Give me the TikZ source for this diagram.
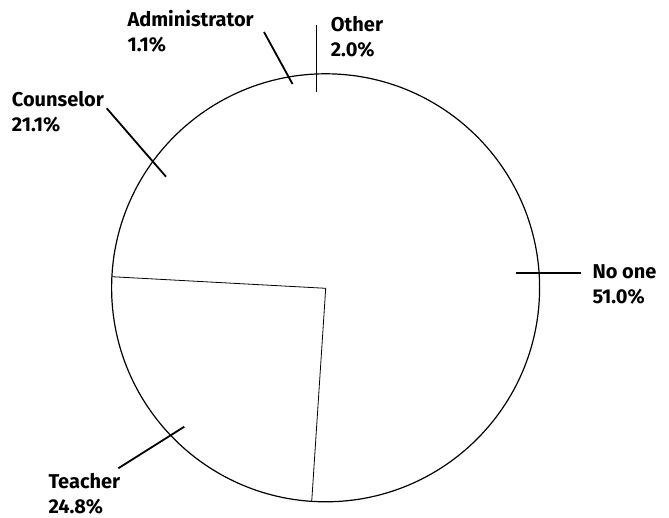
\documentclass[tikz,border=0pt]{standalone}
\usepackage{fontspec}
\setmainfont{Fira Sans}
\begin{document}
\begin{tikzpicture}[x=1pt,y=-1pt,
  lbl/.style={font=\bfseries\fontsize{20}{25}\selectfont,align=left,inner sep=0pt,anchor=base west},
  leader/.style={line width=1.8pt},
  rim/.style={line width=1.2pt},
  wedge/.style={line width=0.8pt}]
\useasboundingbox (0,0) rectangle (669,518);
% pie
\coordinate (C) at (325.7,288.3);
\node[circle,draw,rim,minimum size=428pt,inner sep=0pt] (pie) at (325.6,287.8) {};
\coordinate (tL) at (111.7,276.7);
\coordinate (tB) at (311.7,501.7);
\draw[wedge] (tL) -- (C) -- (tB);
% labels (anchor = baseline of the second line)
\node[lbl] (adm) at (127.3,51.7) {Administrator\\1.1\%};
\node[lbl] (oth) at (330.7,56.7) {Other\\2.0\%};
\node[lbl] (cou) at (11.7,131.7) {Counselor\\21.1\%};
\node[lbl] (noo) at (592.3,303.3) {No one\\51.0\%};
\node[lbl] (tea) at (48.3,513) {Teacher\\24.8\%};
% leader lines
\coordinate (a1) at (264,32);   \coordinate (a2) at (292.5,84);
\coordinate (o1) at (316.5,25); \coordinate (o2) at (316.5,91.7);
\coordinate (c1) at (106.7,108.3); \coordinate (c2) at (166,176.7);
\coordinate (n1) at (515.7,272.7); \coordinate (n2) at (580.7,272.7);
\coordinate (t1) at (118.3,468.3); \coordinate (t2) at (184.3,426.7);
\draw[leader] (a1) -- (a2);
\draw[leader] (o1) -- (o2);
\draw[leader] (c1) -- (c2);
\draw[leader] (n1) -- (n2);
\draw[leader] (t1) -- (t2);
\end{tikzpicture}
\end{document}
